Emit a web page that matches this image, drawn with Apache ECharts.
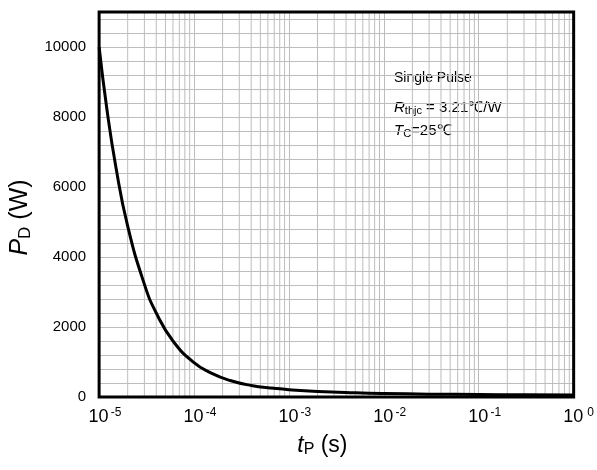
<!DOCTYPE html>
<html>
<head>
<meta charset="utf-8">
<script src="https://cdn.jsdelivr.net/npm/echarts@6/dist/echarts.min.js"></script>
<style>
    html, body { margin: 0; padding: 0; background: #fff; }
    #chart { width: 597px; height: 470px; }
</style>
</head>
<body>
<div id="chart"></div>
<script>
// pulse width (s) and max power dissipation (W)
const pulseWidth = [1e-5, 1.2e-5, 1.5e-5, 2e-5, 3e-5, 4e-5, 6e-5, 1e-4, 1.5e-4, 2.4e-4,
    4e-4, 7e-4, 1e-3, 2e-3, 5e-3, 1e-2, 3e-2, 1e-1, 3e-1, 1]
const powerDiss = [10000, 8280, 6580, 4880, 3220, 2400, 1600, 980, 690, 470,
    330, 250, 210, 160, 120, 100, 82, 70, 62, 56]

// log grid: decades and the minor lines inside each one
const decadeExp = [-5, -4, -3, -2, -1]
const minorMult = [2, 3, 4, 5, 6, 7, 8, 9]
const yMin = 0
const yMax = 11000
const yLabelStep = 2000

const minorLineData = []
decadeExp.forEach((e) => {
    minorMult.forEach((m) => {
        const x = m * Math.pow(10, e)
        minorLineData.push([x, yMin], [x, yMax], [x, '-'])
    })
})

const gridColor = '#bdbdbd'
const chart = echarts.init(document.getElementById('chart'))

chart.setOption({
    animation: false,
    textStyle: { fontFamily: 'Liberation Sans, Arial, sans-serif', color: '#000' },
    grid: {
        left: 98, right: 19, top: 12, bottom: 73,
        show: true, borderColor: '#000', borderWidth: 3, z: 5,
    },
    xAxis: {
        type: 'log',
        logBase: 10,
        min: 1e-5,
        max: 1,
        axisLine: { show: false },
        axisTick: { show: false },
        splitLine: { show: true, lineStyle: { color: gridColor, width: 1 } },
        axisLabel: {
            margin: 10,
            formatter: (v) => {
                const e = Math.round(Math.log10(v))
                return '{p|}{b|10}{s|' + e + '}'
            },
            rich: {
                p: { width: 12, fontSize: 18 },
                b: { fontSize: 18, color: '#000' },
                s: { fontSize: 12, color: '#000', verticalAlign: 'top', padding: [0, 0, 8, 2], width: 11 },
            },
        },
        name: '{i|t}{sub|P}{n| (s)}',
        nameLocation: 'middle',
        nameGap: 37,
        nameTextStyle: {
            padding: [0, 28, 0, 0],
            rich: {
                i: { fontSize: 23, fontStyle: 'italic', color: '#000' },
                sub: { fontSize: 16, color: '#000', verticalAlign: 'bottom', padding: [8, 0, 0, 0] },
                n: { fontSize: 23, color: '#000' },
            },
        },
    },
    yAxis: {
        type: 'value',
        min: yMin,
        max: yMax,
        interval: 400,
        axisLine: { show: false },
        axisTick: { show: false },
        splitLine: { show: true, lineStyle: { color: gridColor, width: 1 } },
        axisLabel: {
            fontSize: 15,
            color: '#000',
            margin: 13,
            formatter: (v) => (v % yLabelStep === 0 && v <= 10000 ? String(v) : ''),
        },
        name: '{i|P}{sub|D}{n| (W)}',
        nameLocation: 'middle',
        nameGap: 64,
        nameTextStyle: {
            padding: [0, 26, 0, 0],
            rich: {
                i: { fontSize: 25, fontStyle: 'italic', color: '#000' },
                sub: { fontSize: 17, color: '#000', verticalAlign: 'bottom', padding: [9, 0, 0, 0] },
                n: { fontSize: 25, color: '#000' },
            },
        },
    },
    series: [
        {
            // minor vertical grid lines of the log axis
            type: 'line',
            data: minorLineData,
            z: 1,
            silent: true,
            showSymbol: false,
            connectNulls: false,
            lineStyle: { color: gridColor, width: 1 },
        },
        {
            type: 'line',
            data: pulseWidth.map((t, i) => [t, powerDiss[i]]),
            smooth: 0.5,
            showSymbol: false,
            z: 3,
            lineStyle: { color: '#000', width: 3 },
        },
    ],
    graphic: [
        {
            type: 'text', left: 394, top: 71,
            style: { text: 'Single Pulse', font: '14px Liberation Sans, Arial, sans-serif', fill: '#000' },
        },
        {
            type: 'text', left: 394, top: 100,
            style: {
                text: '{i|R}{sub|thjc}{n| = 3.21℃/W}',
                fill: '#000',
                rich: {
                    i: { fontSize: 15, fontStyle: 'italic', fontFamily: 'Liberation Sans' },
                    sub: { fontSize: 11, fontFamily: 'Liberation Sans', verticalAlign: 'bottom', padding: [6, 0, 0, 0] },
                    n: { fontSize: 15, fontFamily: 'Liberation Sans' },
                },
            },
        },
        {
            type: 'text', left: 394, top: 123,
            style: {
                text: '{i|T}{sub|C}{n|=25℃}',
                fill: '#000',
                rich: {
                    i: { fontSize: 15, fontStyle: 'italic', fontFamily: 'Liberation Sans' },
                    sub: { fontSize: 11, fontFamily: 'Liberation Sans', verticalAlign: 'bottom', padding: [6, 0, 0, 0] },
                    n: { fontSize: 15, fontFamily: 'Liberation Sans' },
                },
            },
        },
    ],
})

window.addEventListener('resize', () => chart.resize())
</script>
</body>
</html>
